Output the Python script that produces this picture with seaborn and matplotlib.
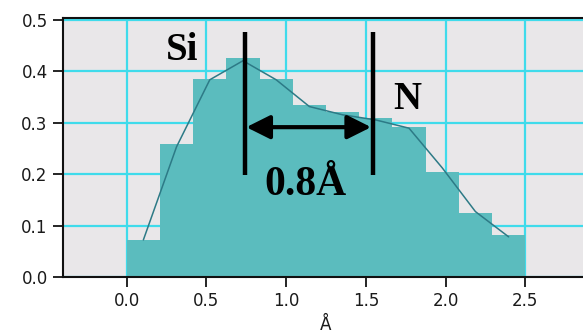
import numpy as np
import pandas as pd
import matplotlib
matplotlib.use("Agg")
import matplotlib.pyplot as plt
import seaborn as sns

# ---- data ----
bin_edges = [0.0, 0.2083, 0.4167, 0.625, 0.8333, 1.0417, 1.25,
             1.4583, 1.6667, 1.875, 2.0833, 2.2917, 2.5]
bar_heights = [0.072, 0.258, 0.384, 0.425, 0.385, 0.334,
               0.320, 0.308, 0.292, 0.204, 0.125, 0.082]
line_values = [0.072, 0.253, 0.383, 0.420, 0.383, 0.331,
               0.315, 0.305, 0.289, 0.212, 0.127, 0.078]
x_ticks = [0.0, 0.5, 1.0, 1.5, 2.0, 2.5]
y_ticks = [0.0, 0.1, 0.2, 0.3, 0.4, 0.5]
x_label = "Å"
si_x, n_x = 0.74, 1.543  # marker line positions (Å)
gap_label = "0.8Å"

centers = [(a + b) / 2 for a, b in zip(bin_edges[:-1], bin_edges[1:])]
df = pd.DataFrame({"r": centers, "h": bar_heights, "line": line_values})

sns.set_style("white")
plt.rcParams["font.family"] = ["DejaVu Sans"]

fig = plt.figure(figsize=(5.83, 3.36), dpi=100)
fig.patch.set_facecolor("white")
ax = fig.add_axes([63 / 583, 59 / 336, 526 / 583, 259 / 336])
ax.set_facecolor("#e9e7e9")

sns.histplot(data=df, x="r", weights="h", bins=bin_edges, ax=ax,
             color="#5bbcbe", alpha=1.0, linewidth=0, element="bars",
             zorder=2)
sns.lineplot(data=df, x="r", y="line", ax=ax, color="#2d7a86",
             linewidth=1.1, zorder=3)

ax.set_xlim(-0.4, 2.9)
ax.set_ylim(0, 0.503)
ax.set_xticks(x_ticks)
ax.set_xticklabels([f"{t:.1f}" for t in x_ticks])
ax.set_yticks(y_ticks)
ax.set_yticklabels([f"{t:.1f}" for t in y_ticks])
ax.grid(True, color="#3fdbeb", linewidth=1.6, zorder=0)
ax.set_axisbelow(True)
ax.tick_params(axis="both", direction="out", length=7, width=1.2,
               color="black", labelsize=12, labelcolor="#1a1a1a", pad=4,
               left=True, bottom=True)
for side in ["left", "bottom", "top"]:
    ax.spines[side].set_visible(True)
    ax.spines[side].set_color("#111111")
    ax.spines[side].set_linewidth(1.5)
ax.spines["right"].set_visible(False)
ax.set_xlabel(x_label, fontsize=12, color="#1a1a1a", labelpad=4)
ax.set_ylabel("")

# annotations
for xv in (si_x, n_x):
    ax.plot([xv, xv], [0.198, 0.476], color="black", linewidth=3.2,
            solid_capstyle="butt", zorder=5)
ax.annotate("", xy=(si_x + 0.01, 0.291), xytext=(n_x - 0.01, 0.291),
            arrowprops=dict(arrowstyle="<|-|>", color="black", lw=3,
                            mutation_scale=36, shrinkA=0, shrinkB=0),
            zorder=5)
serif = ["Liberation Serif", "DejaVu Serif"]
ax.text(0.35, 0.44, "Si", fontsize=28, fontweight="bold", family=serif,
        color="black", ha="center", va="center", zorder=6)
ax.text(1.76, 0.344, "N", fontsize=28, fontweight="bold", family=serif,
        color="black", ha="center", va="center", zorder=6)
ax.text(1.12, 0.178, gap_label, fontsize=30, fontweight="bold",
        family=serif, color="black", ha="center", va="center", zorder=6)

fig.savefig("out.png", dpi=100, facecolor="white")
